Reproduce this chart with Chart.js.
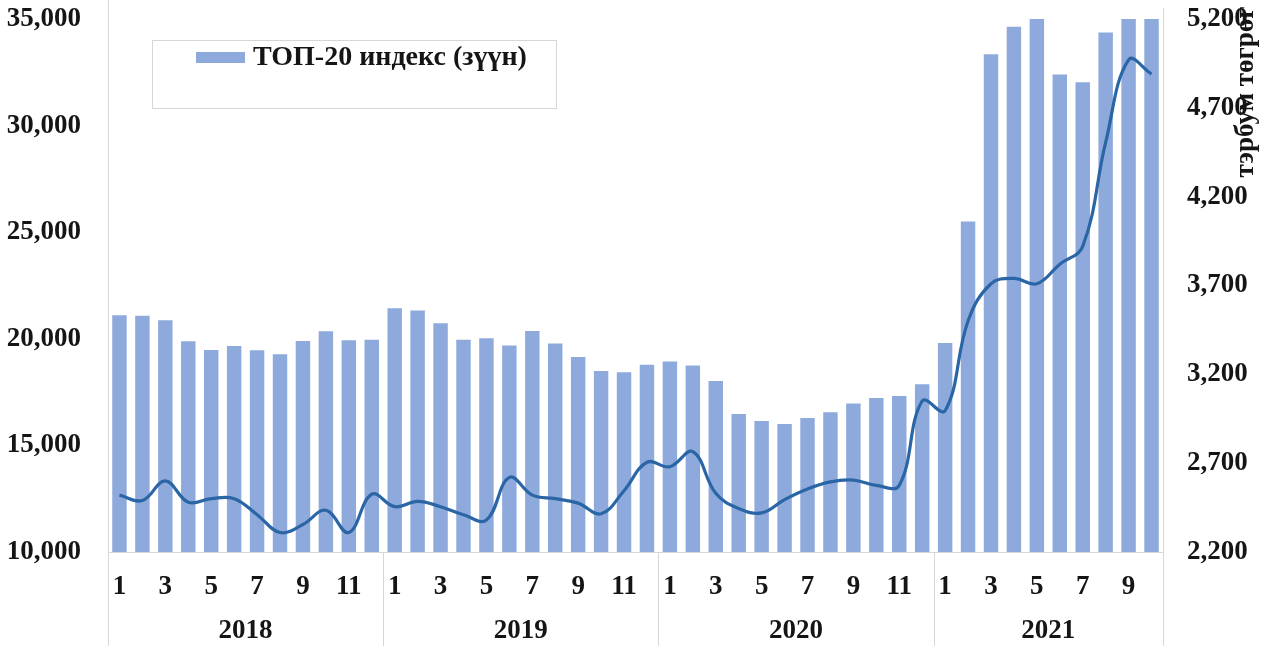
<!DOCTYPE html>
<html>
<head>
<meta charset="utf-8">
<title>ТОП-20 индекс</title>
<script src="https://cdn.jsdelivr.net/npm/chart.js@4.4.1/dist/chart.umd.min.js"></script>
<style>
	html, body { margin: 0; padding: 0; background: #fff; }
	#wrap { width: 1266px; height: 650px; position: relative; }
</style>
</head>
<body>
<div id="wrap"><canvas id="chart"></canvas></div>
<script>
// **********************************************************************
// 				Data
// **********************************************************************

// month of every bar, 2018/1 .. 2021/10
const months = [
	1, 2, 3, 4, 5, 6, 7, 8, 9, 10, 11, 12,
	1, 2, 3, 4, 5, 6, 7, 8, 9, 10, 11, 12,
	1, 2, 3, 4, 5, 6, 7, 8, 9, 10, 11, 12,
	1, 2, 3, 4, 5, 6, 7, 8, 9, 10
];
const years = ['2018', '2019', '2020', '2021'];
const monthsInYear = [12, 12, 12, 10];

// ТОП-20 индекс, left axis
const top20 = [
	21100, 21080, 20870, 19890, 19470, 19660, 19460, 19280, 19900, 20350, 19930, 19960,
	21430, 21330, 20730, 19950, 20020, 19680, 20360, 19780, 19150, 18490, 18430, 18780,
	18940, 18750, 18020, 16470, 16140, 16000, 16290, 16560, 16970, 17220, 17320, 17870,
	19800, 25500, 33350, 34640, 35000, 32400, 32030, 34370, 35100, 35100
];

// тэрбум төгрөг, right axis
const amount = [
	2520, 2490, 2600, 2480, 2500, 2500, 2410, 2310, 2355, 2435, 2310, 2525,
	2455, 2485, 2455, 2410, 2380, 2620, 2520, 2500, 2475, 2415, 2545, 2705,
	2680, 2765, 2530, 2445, 2420, 2495, 2555, 2595, 2605, 2575, 2575, 3050,
	2995, 3500, 3710, 3740, 3710, 3820, 3920, 4505, 4970, 4890
];

const leftTicks = {min: 10000, max: 35000, step: 5000};
const rightTicks = {min: 2200, max: 5200, step: 500};

const barLabel = 'ТОП-20 индекс (зүүн)';
const rightTitle = 'тэрбум төгрөг';

// **********************************************************************
// 				Plugins
// **********************************************************************

const FONT = '"Liberation Serif", "Times New Roman", serif';

const yearAxis = {
	id: 'yearAxis',
	afterDraw(chart) {
		const {ctx, chartArea} = chart;
		const x = chart.scales.x;
		const half = (x.getPixelForValue(1) - x.getPixelForValue(0)) / 2;
		ctx.save();
		ctx.strokeStyle = '#d6d6d6';
		ctx.lineWidth = 1;

		ctx.beginPath();
		ctx.moveTo(chartArea.left, Math.round(chartArea.bottom) + 0.5);
		ctx.lineTo(chartArea.right, Math.round(chartArea.bottom) + 0.5);
		ctx.stroke();

		ctx.font = 'bold 27px ' + FONT;
		ctx.fillStyle = '#151515';
		ctx.textAlign = 'center';
		ctx.textBaseline = 'middle';

		let start = 0;
		years.forEach((yr, k) => {
			const end = start + monthsInYear[k] - 1;
			const x0 = x.getPixelForValue(start) - half;
			const x1 = x.getPixelForValue(end) + half;
			ctx.fillText(yr, (x0 + x1) / 2, 631);

			ctx.beginPath();
			const top0 = (k == 0) ? 0 : chartArea.bottom;
			ctx.moveTo(Math.round(x0) + 0.5, top0);
			ctx.lineTo(Math.round(x0) + 0.5, 646);
			ctx.stroke();
			if (k == years.length - 1) {
				ctx.beginPath();
				ctx.moveTo(Math.round(x1) + 0.5, 8);
				ctx.lineTo(Math.round(x1) + 0.5, 646);
				ctx.stroke();
			}
			start = end + 1;
		});
		ctx.restore();
	}
};

const boxLegend = {
	id: 'boxLegend',
	afterDraw(chart) {
		const ctx = chart.ctx;
		const ds = chart.data.datasets[1];
		ctx.save();
		ctx.fillStyle = '#fff';
		ctx.fillRect(152, 40, 404, 68);
		ctx.strokeStyle = '#d6d6d6';
		ctx.lineWidth = 1;
		ctx.strokeRect(152.5, 40.5, 404, 68);

		ctx.fillStyle = ds.backgroundColor;
		ctx.fillRect(196, 52, 49, 11);

		ctx.fillStyle = '#151515';
		ctx.font = 'bold 28px ' + FONT;
		ctx.textAlign = 'left';
		ctx.textBaseline = 'middle';
		ctx.fillText(ds.label, 253, 58);
		ctx.restore();
	}
};

const sideTitle = {
	id: 'sideTitle',
	afterDraw(chart) {
		const ctx = chart.ctx;
		ctx.save();
		ctx.translate(1246, 92);
		ctx.rotate(-Math.PI / 2);
		ctx.fillStyle = '#151515';
		ctx.font = 'bold 27px ' + FONT;
		ctx.textAlign = 'center';
		ctx.textBaseline = 'middle';
		ctx.fillText(rightTitle, 0, 0);
		ctx.restore();
	}
};

// **********************************************************************
// 				Chart
// **********************************************************************

const tickFont = {family: FONT, size: 27, weight: 'bold'};
const fmt = v => Number(v).toLocaleString('en-US');

// keep the plot close to the top edge like the original
function fitY(width) {
	return s => {
		s.width = width;
		s.paddingTop = 19;
		s.paddingBottom = 18;
	};
}

const ctx = document.getElementById('chart').getContext('2d');
const chart = new Chart(ctx, {
	type: 'bar',
	data: {
		labels: months.map(String),
		datasets: [
			{
				type: 'line',
				label: rightTitle,
				data: amount,
				yAxisID: 'y1',
				borderColor: '#2a66a6',
				borderWidth: 3.2,
				pointRadius: 0,
				tension: 0.4,
				fill: false,
				order: 0
			},
			{
				type: 'bar',
				label: barLabel,
				data: top20,
				yAxisID: 'y',
				backgroundColor: '#8eaadc',
				categoryPercentage: 1,
				barPercentage: 0.63,
				order: 1
			}
		]
	},
	options: {
		responsive: true,
		maintainAspectRatio: false,
		animation: false,
		layout: {padding: 0},
		plugins: {
			legend: {display: false},
			tooltip: {enabled: false}
		},
		scales: {
			x: {
				grid: {display: false},
				border: {display: false},
				ticks: {
					autoSkip: false,
					maxRotation: 0,
					padding: 11,
					color: '#151515',
					font: tickFont,
					callback: (v, i) => (months[i] % 2 == 1) ? String(months[i]) : ''
				},
				afterFit: s => { s.height = 98; }
			},
			y: {
				position: 'left',
				min: leftTicks.min,
				max: leftTicks.max,
				grid: {display: false},
				border: {display: false},
				ticks: {stepSize: leftTicks.step, padding: 19, color: '#151515', font: tickFont, callback: fmt},
				afterFit: fitY(108)
			},
			y1: {
				position: 'right',
				min: rightTicks.min,
				max: rightTicks.max,
				grid: {display: false},
				border: {display: false},
				ticks: {stepSize: rightTicks.step, padding: 16, color: '#151515', font: tickFont, callback: fmt},
				afterFit: fitY(103)
			}
		}
	},
	plugins: [yearAxis, boxLegend, sideTitle]
});
</script>
</body>
</html>
